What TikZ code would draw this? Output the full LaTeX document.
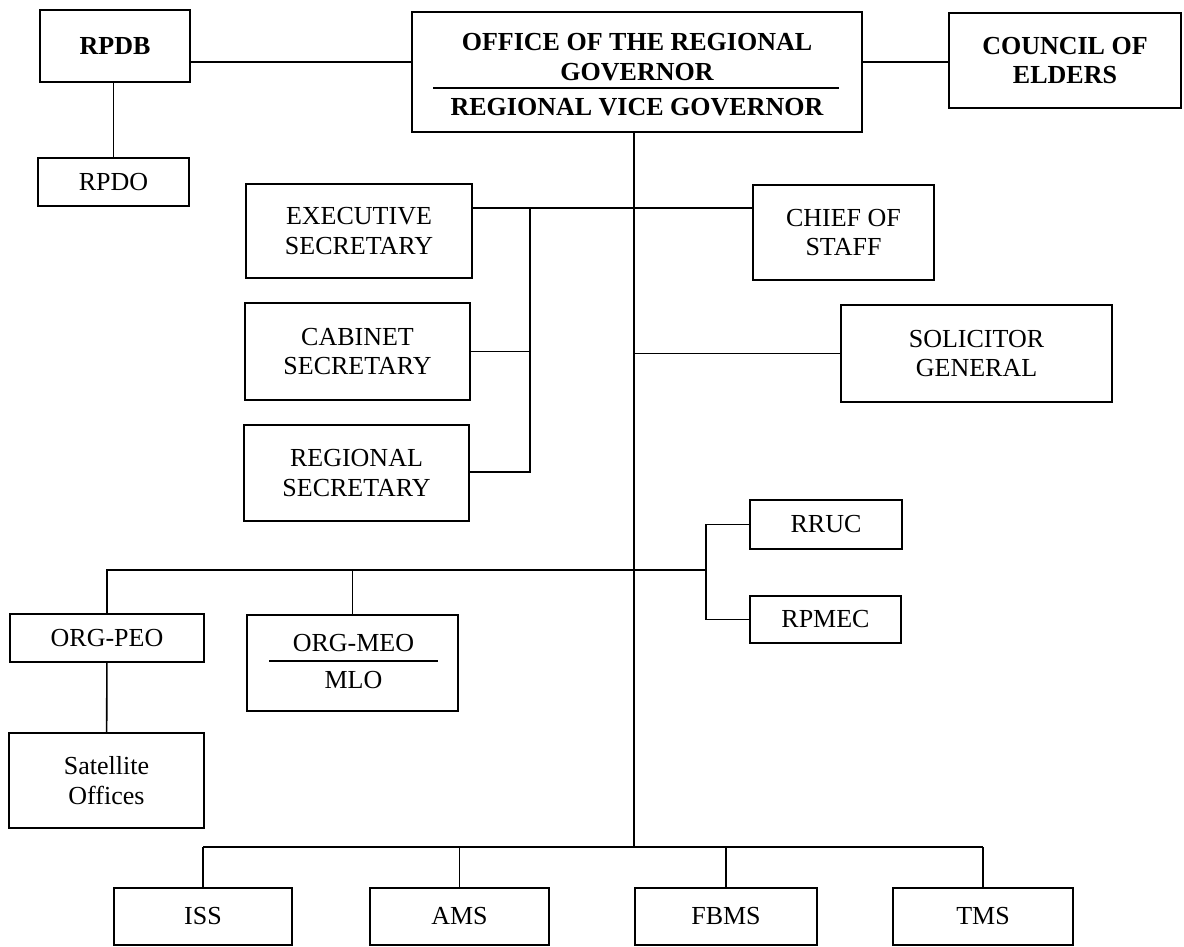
\documentclass[tikz,border=0pt]{standalone}
\usepackage{fontspec}
\setmainfont{Liberation Serif}
\begin{document}
\begin{tikzpicture}[x=0.02cm, y=-0.02cm, line width=0.9pt,
    font=\fontsize{14.8}{16.8}\selectfont,
    box/.style={draw, align=center, inner sep=0pt},
    bold/.style={align=center, font=\fontsize{14.8}{16.8}\selectfont\bfseries}]
  \useasboundingbox (0,0) rectangle (1184,947);

  % top row
  \node[box, bold, minimum width=3cm, minimum height=1.44cm] (rpdb) at (115,46) {RPDB};
  \node[box, minimum width=3.02cm, minimum height=0.96cm] (rpdo) at (113.5,182) {RPDO};
  \node[box, minimum width=9cm, minimum height=2.4cm] (office) at (637,72) {};
  \node[bold] (officename) at (637,57) {OFFICE OF THE REGIONAL\\GOVERNOR};
  \node[bold] (vicegov) at (637,107) {REGIONAL VICE GOVERNOR};
  \draw (433,88) -- (839,88);
  \node[box, bold, minimum width=4.64cm, minimum height=1.9cm] (council) at (1065,60.5) {COUNCIL OF\\ELDERS};

  % staff
  \node[box, minimum width=4.52cm, minimum height=1.88cm] (exec) at (359,231) {EXECUTIVE\\SECRETARY};
  \node[box, minimum width=4.5cm, minimum height=1.94cm] (cabinet) at (357.5,351.5) {CABINET\\SECRETARY};
  \node[box, minimum width=4.5cm, minimum height=1.92cm] (regional) at (356.5,473) {REGIONAL\\SECRETARY};
  \node[box, minimum width=3.62cm, minimum height=1.9cm] (chief) at (843.5,232.5) {CHIEF OF\\STAFF};
  \node[box, minimum width=5.42cm, minimum height=1.94cm] (solicitor) at (976.5,353.5) {SOLICITOR\\GENERAL};

  % field offices
  \node[box, minimum width=3.04cm, minimum height=0.98cm] (rruc) at (826,524.5) {RRUC};
  \node[box, minimum width=3.02cm, minimum height=0.94cm] (rpmec) at (825.5,619.5) {RPMEC};
  \node[box, minimum width=3.88cm, minimum height=0.96cm] (orgpeo) at (107,638) {ORG-PEO};
  \node[box, minimum width=4.22cm, minimum height=1.92cm] (orgmeo) at (352.5,663) {};
  \node (meo) at (353.5,643) {ORG-MEO};
  \node (mlo) at (353.5,680) {MLO};
  \draw (269,661) -- (438,661);
  \node[box, minimum width=3.9cm, minimum height=1.9cm] (satellite) at (106.5,780.5) {Satellite\\Offices};

  % services
  \node[box, minimum width=3.56cm, minimum height=1.14cm] (iss) at (203,916.5) {ISS};
  \node[box, minimum width=3.58cm, minimum height=1.14cm] (ams) at (459.5,916.5) {AMS};
  \node[box, minimum width=3.64cm, minimum height=1.14cm] (fbms) at (726,916.5) {FBMS};
  \node[box, minimum width=3.6cm, minimum height=1.14cm] (tms) at (983,916.5) {TMS};

  % junctions
  \coordinate (toplvl) at (0,62);
  \coordinate (bus) at (634,847);
  \coordinate (seclvl) at (530,208);
  \coordinate (secbot) at (530,472);
  \coordinate (brlvl) at (706,570);

  \draw (rpdb.east |- toplvl) -- (office.west |- toplvl);
  \draw (office.east |- toplvl) -- (council.west |- toplvl);
  \draw (rpdb.south -| rpdo) -- (rpdo.north);
  \draw (office.south -| bus) -- (bus);

  \draw (exec.east |- seclvl) -- (chief.west |- seclvl);
  \draw (seclvl) -- (secbot) -- (regional.east |- secbot);
  \draw (cabinet.east) -- (cabinet.east -| seclvl);
  \draw (solicitor.west) -- (solicitor.west -| bus);

  \draw (orgpeo.north) -- (orgpeo.north |- brlvl) -- (brlvl);
  \draw (orgmeo.north) -- (orgmeo.north |- brlvl);
  \draw (rruc.west) -- (rruc.west -| brlvl) -- (rpmec.west -| brlvl) -- (rpmec.west);
  \draw (orgpeo) -- (satellite);

  \draw (iss.north |- bus) -- (tms.north |- bus);
  \foreach \n in {iss,ams,fbms,tms}
    \draw (\n.north) -- (\n.north |- bus);
\end{tikzpicture}
\end{document}
